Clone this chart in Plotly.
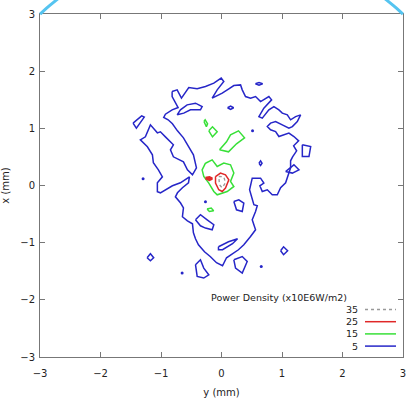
import math
import plotly.graph_objects as go

# ---- data (in mm) ----
levels = [35, 25, 15, 5]
level_colors = {35: "#999999", 25: "#e02828", 15: "#38e038", 5: "#2626c8"}
level_dash = {35: "dot", 25: "solid", 15: "solid", 5: "solid"}

# main 5-level contour
blue_main_x = [-0.816, -0.733, -0.662, -0.541, -0.402, -0.265, -0.127, -0.005, 0.038, -0.071, -0.154,
               0.012, 0.121, 0.204, 0.315, 0.343, 0.397, 0.48, 0.563, 0.646, 0.783, 0.828, 0.7, 0.618,
               0.674, 0.783, 0.866, 0.949, 1.005, 1.088, 1.142, 1.225, 1.308, 1.253, 1.171, 1.114, 1.005,
               0.894, 0.811, 0.757, 0.811, 0.894, 0.949, 1.031, 1.114, 1.197,
               1.275, 1.192, 1.242, 1.175, 1.142, 1.142, 1.109, 1.06, 0.977, 0.922, 0.839, 0.757, 0.674,
               0.634, 0.7, 0.646, 0.508, 0.464, 0.535, 0.591, 0.563, 0.508, 0.535, 0.563, 0.48, 0.369,
               0.28, 0.182, 0.083, 0.017, -0.083, -0.182, -0.281, -0.381, -0.43, -0.464, -0.48, -0.563,
               -0.646, -0.629, -0.679, -0.762, -0.728, -0.646, -0.546, -0.53, -0.679, -0.811, -1.01, -1.06,
               -1.06, -0.977, -1.043, -1.126, -1.142, -1.225, -1.341, -1.258, -1.175, -1.06, -1.01, -0.927,
               -0.877, -0.795, -0.844, -0.795, -0.629, -0.563, -0.48, -0.414, -0.464, -0.546, -0.629, -0.728,
               -0.811, -0.882, -0.955, -0.927, -0.816, -0.717, -0.762, -0.816, -0.816]
blue_main_y = [1.643, 1.673, 1.528, 1.713, 1.691, 1.731, 1.79, 1.878, 1.818, 1.673, 1.528,
               1.615, 1.691, 1.748, 1.76, 1.673, 1.556, 1.528, 1.556, 1.469, 1.556, 1.498, 1.353, 1.206,
               1.178, 1.323, 1.381, 1.323, 1.266, 1.236, 1.149, 1.206, 1.236, 1.119, 1.031, 1.003, 1.061,
               1.119, 1.091, 1.031, 0.974, 0.944, 0.857, 0.886, 0.916, 0.857,
               0.781, 0.694, 0.607, 0.502, 0.432, 0.309, 0.187, 0.047, -0.04, -0.163, -0.163, -0.075, -0.105,
               -0.005, 0.042, 0.129, 0.129, -0.075, -0.337, -0.355, -0.455, -0.6, -0.687, -0.774, -0.892, -1.037,
               -1.124, -1.194, -1.264, -1.404, -1.351, -1.246, -1.159, -1.037, -0.932, -0.827, -0.67, -0.617,
               -0.547, -0.39, -0.302, -0.198, -0.128, -0.04, 0.047, 0.152, 0.047, -0.005, -0.128, -0.11,
               0.047, 0.152, 0.274, 0.397, 0.537, 0.677, 0.799, 0.851, 1.061, 0.921, 0.939, 0.851,
               0.799, 0.712, 0.624, 0.502, 0.414, 0.274, 0.187, 0.309, 0.537, 0.694, 0.834, 0.956,
               1.079, 1.149, 1.189, 1.248, 1.323, 1.364, 1.441, 1.556, 1.643]

# smaller 5-level loops: (x list, y list)
blue_loops = [
    ([-0.733, -0.679, -0.568, -0.43, -0.32, -0.348, -0.513, -0.624, -0.733],
     [1.236, 1.323, 1.411, 1.44, 1.381, 1.323, 1.323, 1.266, 1.236]),
    ([-1.462, -1.32, -1.277, -1.407, -1.462], [1.091, 1.218, 1.196, 1.003, 1.091]),
    ([1.336, 1.474, 1.446, 1.336, 1.336], [0.711, 0.682, 0.507, 0.507, 0.711]),
    ([1.06, 1.197, 1.28, 1.171, 1.06], [0.245, 0.362, 0.274, 0.217, 0.245]),
    ([0.62, 0.646, 0.67, 0.646, 0.62], [0.39, 0.43, 0.39, 0.35, 0.39]),
    ([0.204, 0.286, 0.369, 0.343, 0.248, 0.204], [-0.28, -0.25, -0.308, -0.455, -0.425, -0.28]),
    ([-0.43, -0.348, -0.237, -0.127, -0.154, -0.265, -0.348, -0.43],
     [-0.6, -0.512, -0.6, -0.687, -0.774, -0.745, -0.705, -0.6]),
    ([-0.05, 0.116, 0.265, 0.182, 0.017, -0.05, -0.05], [-1.072, -0.984, -0.932, -1.019, -1.124, -1.124, -1.072]),
    ([0.204, 0.343, 0.425, 0.343, 0.232, 0.204], [-1.3, -1.243, -1.33, -1.531, -1.445, -1.3]),
    ([-0.43, -0.348, -0.293, -0.21, -0.293, -0.402, -0.43], [-1.386, -1.299, -1.445, -1.562, -1.619, -1.591, -1.386]),
    ([-1.23, -1.175, -1.121, -1.175, -1.23], [-1.264, -1.194, -1.264, -1.316, -1.264]),
    ([0.977, 1.026, 1.093, 1.026, 0.977], [-1.142, -1.072, -1.142, -1.211, -1.142]),
    ([0.56, 0.62, 0.68, 0.62, 0.56], [1.78, 1.80, 1.78, 1.755, 1.78]),
    ([0.1, 0.15, 0.2, 0.15, 0.1], [1.36, 1.39, 1.36, 1.33, 1.36]),
]
# tiny 5-level islands (centres)
blue_dots_x = [-0.651, 0.657, -1.296, -0.265, 0.513]
blue_dots_y = [-1.531, -1.416, 0.117, -0.285, 0.956]

green_c_x = [-0.265, -0.154, -0.071, 0.038, 0.149, 0.204, 0.149, 0.204, 0.094, -0.071, -0.127, -0.21, -0.293, -0.32, -0.265]
green_c_y = [0.39, 0.449, 0.332, 0.392, 0.362, 0.217, 0.07, -0.017, -0.105, -0.163, -0.105, 0.042, 0.157, 0.274, 0.39]
green_e_x = [-0.033, 0.083, 0.149, 0.281, 0.381, 0.248, 0.116, -0.033]
green_e_y = [0.624, 0.764, 0.886, 0.956, 0.834, 0.729, 0.589, 0.624]
green_d_x = [-0.21, -0.149, -0.071, -0.149, -0.21]
green_d_y = [0.956, 1.026, 0.939, 0.851, 0.956]
green_s_x = [-0.29, -0.27, -0.23, -0.25, -0.29]
green_s_y = [1.12, 1.15, 1.08, 1.03, 1.12]
green_b_x = [-0.24, -0.17, -0.13, -0.2, -0.24]
green_b_y = [-0.41, -0.395, -0.44, -0.455, -0.41]

red_x = [-0.099, -0.017, 0.066, 0.121, 0.066, 0.012, -0.045, -0.099, -0.099]
red_y = [0.157, 0.217, 0.187, 0.10, -0.045, -0.105, -0.075, 0.042, 0.157]
red_s_x = [-0.265, -0.2, -0.154, -0.2, -0.265]
red_s_y = [0.13, 0.145, 0.12, 0.1, 0.13]

dot_x = [-0.045, 0.038, 0.066, 0.012, -0.033, -0.045]
dot_y = [0.157, 0.152, 0.047, -0.04, 0.012, 0.157]

ring_radius = 4.24
x_ticks = [-3, -2, -1, 0, 1, 2, 3]
y_ticks = [-3, -2, -1, 0, 1, 2, 3]

fig = go.Figure()


def add(xs, ys, lev, width=1.5):
    fig.add_trace(go.Scatter(x=xs, y=ys, mode="lines", showlegend=False, hoverinfo="skip",
                             line=dict(color=level_colors[lev], width=width, dash=level_dash[lev])))


add(blue_main_x, blue_main_y, 5)
for lx, ly in blue_loops:
    add(lx, ly, 5)
fig.add_trace(go.Scatter(x=blue_dots_x, y=blue_dots_y, mode="markers", showlegend=False, hoverinfo="skip",
                         marker=dict(color=level_colors[5], size=3)))
for gx, gy in [(green_c_x, green_c_y), (green_e_x, green_e_y), (green_d_x, green_d_y),
               (green_s_x, green_s_y), (green_b_x, green_b_y)]:
    add(gx, gy, 15)
add(red_x, red_y, 25)
add(red_s_x, red_s_y, 25, 2.5)
add(dot_x, dot_y, 35, 1.3)

# circle arc above the plot (paper coordinates so it is not clipped)
pts = []
for i in range(0, 91):
    a = math.radians(45 + i)
    pts.append(((ring_radius * math.cos(a) + 3) / 6, (ring_radius * math.sin(a) + 3) / 6))
path = "M " + " L ".join(f"{px:.4f},{py:.4f}" for px, py in pts)
fig.add_shape(type="path", path=path, xref="paper", yref="paper",
              line=dict(color="#55c4f0", width=3))


# manual legend (gnuplot style: label left of sample)
def px2paper_x(px):
    return (px - 40) / 363


def py2paper_y(py):
    return (357 - py) / 343


fig.add_annotation(text="Power Density (x10E6W/m2)", x=px2paper_x(349), y=py2paper_y(297),
                   xref="paper", yref="paper", xanchor="right", yanchor="middle", showarrow=False,
                   font=dict(size=9.5, color="#222"))
for i, lev in enumerate(levels):
    yy = py2paper_y(309.5 + i * 12.2)
    fig.add_annotation(text=str(lev), x=px2paper_x(360), y=yy, xref="paper", yref="paper",
                       xanchor="right", yanchor="middle", showarrow=False, font=dict(size=9.5, color="#222"))
    fig.add_shape(type="line", xref="paper", yref="paper", x0=px2paper_x(365), x1=px2paper_x(396),
                  y0=yy, y1=yy, line=dict(color=level_colors[lev], width=1.5, dash=level_dash[lev]))

axis_common = dict(range=[-3, 3], showgrid=False, zeroline=False, ticks="inside", ticklen=5,
                   tickcolor="#777", linecolor="#777", linewidth=1, mirror="ticks", showline=True,
                   tickfont=dict(size=10, color="#222"), automargin=False)
fig.update_xaxes(**axis_common, tickvals=x_ticks, ticklabelstandoff=7,
                 title=dict(text="y (mm)", font=dict(size=10, color="#222"), standoff=10))
fig.update_yaxes(**axis_common, tickvals=y_ticks, ticklabelstandoff=2,
                 title=dict(text="x (mm)", font=dict(size=10, color="#222"), standoff=8))

fig.update_layout(width=407, height=398, margin=dict(l=40, r=4, t=14, b=41),
                  plot_bgcolor="white", paper_bgcolor="white",
                  font=dict(family="DejaVu Sans", size=10, color="#222"))
fig.write_html("out.html", config={"displayModeBar": False},
               post_script="document.body.style.margin='0px';")
